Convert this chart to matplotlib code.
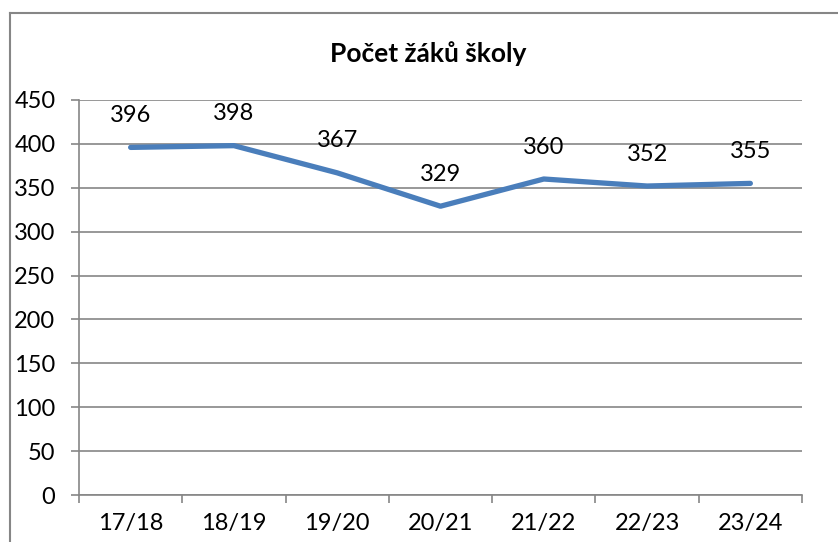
import numpy as np
import matplotlib.pyplot as plt
from matplotlib.lines import Line2D

years = ["17/18", "18/19", "19/20", "20/21", "21/22", "22/23", "23/24"]
pupils = [396, 398, 367, 329, 360, 352, 355]
y_ticks = [0, 50, 100, 150, 200, 250, 300, 350, 400, 450]

plt.rcParams["font.family"] = ["Lato", "DejaVu Sans"]
grey = "#868686"
W, H = 838, 542

fig = plt.figure(figsize=(W / 100, H / 100), dpi=100)
ax = fig.add_axes([79 / W, 1 - 495 / H, (802 - 79) / W, (495 - 100) / H])

x = np.arange(len(years))
ax.plot(x, pupils, color="#4A7EBB", linewidth=3.8, solid_capstyle="round", zorder=3)

for xi, v in zip(x, pupils):
    ax.annotate(str(v), (xi, v), xytext=(0, 23), textcoords="offset points",
                ha="center", va="center", fontsize=17, color="black")

ax.set_xlim(-0.5, len(years) - 0.5)
ax.set_ylim(0, 450)
ax.set_yticks(y_ticks)
ax.set_yticklabels([str(t) for t in y_ticks], fontsize=17)
ax.set_xticks(x)
ax.set_xticklabels(years, fontsize=17)
ax.set_xticks(np.arange(-0.5, len(years)), minor=True)
ax.tick_params(axis="x", which="major", length=0, pad=13)
ax.tick_params(axis="x", which="minor", length=6, width=1.2, color=grey, direction="out")
ax.tick_params(axis="y", length=6, width=1.2, color=grey, direction="out", pad=11)

ax.grid(axis="y", color=grey, linewidth=1.2)
ax.set_axisbelow(True)
for side in ["top", "right"]:
    ax.spines[side].set_visible(False)
for side in ["left", "bottom"]:
    ax.spines[side].set_color(grey)
    ax.spines[side].set_linewidth(1.2)

fig.text(428 / W, 1 - 54 / H, "Počet žáků školy", ha="center", va="center",
         fontsize=19, fontweight="bold")

# chart frame (left and top edges visible)
fig.add_artist(Line2D([10 / W, 10 / W], [0, 1 - 13 / H], color=grey, linewidth=1.5))
fig.add_artist(Line2D([10 / W, 1], [1 - 13 / H, 1 - 13 / H], color=grey, linewidth=1.5))

fig.savefig("out.png", dpi=100)
